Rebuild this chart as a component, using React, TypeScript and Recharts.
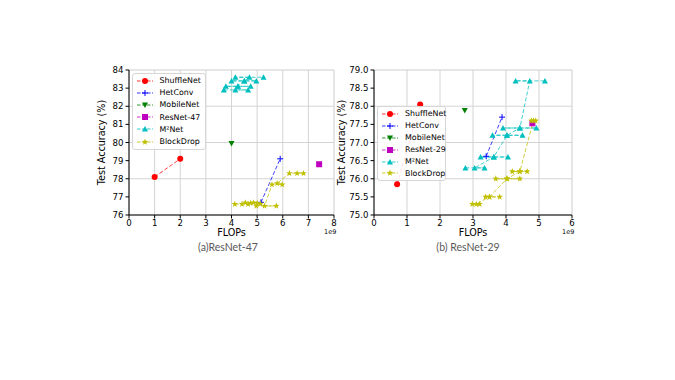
import React from "react"
import { LineChart, Line, XAxis, YAxis, CartesianGrid, Legend } from "recharts"

// ---- data: ResNet-47 panel ----
const shuffle47 = [{ x: 1.0, y: 78.1 }, { x: 2.0, y: 79.1 }]
const hetconv47 = [{ x: 5.15, y: 76.7 }, { x: 5.9, y: 79.1 }]
const mobile47 = [{ x: 4.0, y: 79.95 }]
const resnet47 = [{ x: 7.42, y: 78.8 }]
const m2net47 = [
  { x: 3.7, y: 82.9 }, { x: 4.65, y: 82.9 }, { x: 4.15, y: 82.9 },
  { x: 4.25, y: 83.1 }, { x: 3.78, y: 83.1 }, { x: 4.75, y: 83.1 }, { x: 4.25, y: 83.1 },
  { x: 4.5, y: 83.4 }, { x: 4.0, y: 83.4 }, { x: 4.97, y: 83.4 }, { x: 4.5, y: 83.4 },
  { x: 4.7, y: 83.6 }, { x: 4.15, y: 83.6 }, { x: 5.25, y: 83.6 },
]
const blockdrop47 = [
  { x: 4.13, y: 76.6 }, { x: 4.41, y: 76.6 }, { x: 4.54, y: 76.68 }, { x: 4.65, y: 76.6 },
  { x: 4.74, y: 76.66 }, { x: 4.86, y: 76.68 }, { x: 5.0, y: 76.66 }, { x: 5.13, y: 76.62 },
  { x: 4.97, y: 76.5 }, { x: 5.75, y: 76.5 }, { x: 5.29, y: 76.5 },
  { x: 5.58, y: 77.68 }, { x: 5.98, y: 77.68 }, { x: 5.78, y: 77.75 },
  { x: 6.26, y: 78.3 }, { x: 6.56, y: 78.3 }, { x: 6.81, y: 78.3 },
]

// ---- data: ResNet-29 panel ----
const shuffle29 = [{ x: 0.7, y: 75.85 }, { x: 1.4, y: 78.05 }]
const hetconv29 = [{ x: 3.4, y: 76.62 }, { x: 3.88, y: 77.7 }]
const mobile29 = [{ x: 2.75, y: 77.88 }]
const resnet29 = [{ x: 4.8, y: 77.53 }]
const m2net29 = [
  { x: 2.77, y: 76.3 }, { x: 3.35, y: 76.3 }, { x: 3.05, y: 76.3 },
  { x: 3.63, y: 76.6 }, { x: 3.23, y: 76.6 }, { x: 4.06, y: 76.6 }, { x: 3.63, y: 76.6 },
  { x: 4.03, y: 77.2 }, { x: 3.59, y: 77.2 }, { x: 4.5, y: 77.2 }, { x: 4.03, y: 77.2 },
  { x: 4.42, y: 77.4 }, { x: 3.91, y: 77.4 }, { x: 4.92, y: 77.4 }, { x: 4.42, y: 77.4 },
  { x: 4.72, y: 78.7 }, { x: 4.29, y: 78.7 }, { x: 5.18, y: 78.7 },
]
const blockdrop29 = [
  { x: 2.98, y: 75.3 }, { x: 3.2, y: 75.3 }, { x: 3.1, y: 75.3 },
  { x: 3.5, y: 75.5 }, { x: 3.38, y: 75.5 }, { x: 3.81, y: 75.5 }, { x: 3.5, y: 75.5 },
  { x: 4.03, y: 76.0 }, { x: 3.69, y: 76.0 }, { x: 4.42, y: 76.0 }, { x: 4.03, y: 76.0 },
  { x: 4.42, y: 76.2 }, { x: 4.19, y: 76.2 }, { x: 4.64, y: 76.2 }, { x: 4.42, y: 76.2 },
  { x: 4.83, y: 77.6 }, { x: 4.77, y: 77.6 }, { x: 4.9, y: 77.6 },
]

const xTicks47 = [0, 1, 2, 3, 4, 5, 6, 7, 8]
const yTicks47 = [76, 77, 78, 79, 80, 81, 82, 83, 84]
const xTicks29 = [0, 1, 2, 3, 4, 5, 6]
const yTicks29 = [75, 75.5, 76, 76.5, 77, 77.5, 78, 78.5, 79]

const FONT = "DejaVu Sans"

const minor = (lo: number, hi: number, step: number) =>
  Array.from({ length: Math.round((hi - lo) / step) + 1 }, (_, i) => +(lo + i * step).toFixed(2))

type Kind = "circle" | "plus" | "tridown" | "square" | "triup" | "star"

function Marker({ kind, cx, cy, color }: { kind: Kind; cx: number; cy: number; color: string }) {
  if (cx == null || cy == null) return null
  switch (kind) {
    case "circle":
      return <circle cx={cx} cy={cy} r={3} fill={color} />
    case "plus":
      return <path d={`M${cx - 3},${cy}H${cx + 3}M${cx},${cy - 3}V${cy + 3}`} stroke={color} strokeWidth={1} />
    case "tridown":
      return <polygon points={`${cx - 3},${cy - 2.5} ${cx + 3},${cy - 2.5} ${cx},${cy + 3}`} fill={color} />
    case "square":
      return <rect x={cx - 3} y={cy - 3} width={6} height={6} fill={color} />
    case "triup":
      return <polygon points={`${cx - 3},${cy + 2.5} ${cx + 3},${cy + 2.5} ${cx},${cy - 3}`} fill={color} />
    case "star": {
      const pts: string[] = []
      for (let i = 0; i < 10; i++) {
        const r = i % 2 === 0 ? 3.4 : 1.4
        const a = -Math.PI / 2 + (i * Math.PI) / 5
        pts.push(`${cx + r * Math.cos(a)},${cy + r * Math.sin(a)}`)
      }
      return <polygon points={pts.join(" ")} fill={color} />
    }
  }
  return null
}

type Series = { name: string; color: string; kind: Kind; data: { x: number; y: number }[] }

function LegendBox({ items, left, top, width, rowH, lineW }: any) {
  return (
    <div
      style={{
        position: "absolute",
        left,
        top,
        width,
        border: "1px solid #d6d6d6",
        borderRadius: 3,
        background: "rgba(255,255,255,0.85)",
        padding: "1px 0",
        fontFamily: FONT,
        fontSize: 7.9,
        color: "#000",
        textAlign: "left",
        boxSizing: "border-box",
      }}
    >
      {items.map((s: Series) => (
        <div key={s.name} style={{ display: "flex", alignItems: "center", justifyContent: "flex-start", height: rowH }}>
          <svg width={lineW + 6} height={10} style={{ marginLeft: 2, flex: "none" }}>
            <line x1={2} y1={5} x2={lineW + 2} y2={5} stroke={s.color} strokeOpacity={0.8} strokeDasharray="3.5 1.5" />
            <Marker kind={s.kind} cx={lineW / 2 + 2} cy={5} color={s.color} />
          </svg>
          <span style={{ marginLeft: 3, whiteSpace: "nowrap" }}>{s.name}</span>
        </div>
      ))}
    </div>
  )
}

function Panel({ series, xTicks, yTicks, minorX, minorY, yWidth, rightM, fmt, legend }: any) {
  const tick = { fontSize: 8.6, fill: "#000", fontFamily: FONT }
  const xMax = xTicks[xTicks.length - 1]
  const yMin = yTicks[0]
  const yMax = yTicks[yTicks.length - 1]
  return (
    <LineChart width={290} height={200} margin={{ top: 10, right: rightM, left: 0, bottom: 15 }}>
      <XAxis xAxisId="minor" type="number" dataKey="x" domain={[0, xMax]} ticks={minorX} hide />
      <YAxis yAxisId="minor" type="number" dataKey="y" domain={[yMin, yMax]} ticks={minorY} hide />
      <CartesianGrid xAxisId="minor" yAxisId="minor" stroke="#e8e8e8" strokeWidth={0.6} />
      <CartesianGrid stroke="#cfcfcf" strokeWidth={0.9} />
      <XAxis
        type="number"
        dataKey="x"
        domain={[0, xMax]}
        ticks={xTicks}
        allowDataOverflow
        height={30}
        tick={tick}
        tickSize={3.5}
        tickMargin={1}
        stroke="#000"
        label={{ value: "FLOPs", position: "insideBottom", offset: 9, style: { fontSize: 9.6, fill: "#000", fontFamily: FONT } }}
      />
      <YAxis
        type="number"
        dataKey="y"
        domain={[yMin, yMax]}
        ticks={yTicks}
        allowDataOverflow
        width={yWidth}
        tick={tick}
        tickSize={3.5}
        tickMargin={2}
        tickFormatter={fmt}
        stroke="#000"
        label={{
          value: "Test Accuracy (%)",
          angle: -90,
          position: "insideLeft",
          offset: 42,
          style: { textAnchor: "middle", fontSize: 9.6, fill: "#000", fontFamily: FONT },
        }}
      />
      {series.map((s: Series) => (
        <Line
          key={s.name}
          data={s.data}
          dataKey="y"
          name={s.name}
          type="linear"
          stroke={s.color}
          strokeOpacity={0.75}
          strokeWidth={1}
          strokeDasharray="4 2"
          isAnimationActive={false}
          activeDot={false}
          dot={(p: any) => <Marker key={`${s.name}-${p.index}`} kind={s.kind} cx={p.cx} cy={p.cy} color={s.color} />}
        />
      ))}
      <Legend
        content={() => <LegendBox {...legend} items={series} />}
        wrapperStyle={{ left: 0, top: 0, width: 0, height: 0, textAlign: "left" }}
      />
    </LineChart>
  )
}

const series47: Series[] = [
  { name: "ShuffleNet", color: "#ff0000", kind: "circle", data: shuffle47 },
  { name: "HetConv", color: "#0000ff", kind: "plus", data: hetconv47 },
  { name: "MobileNet", color: "#008000", kind: "tridown", data: mobile47 },
  { name: "ResNet-47", color: "#bf00bf", kind: "square", data: resnet47 },
  { name: "M²Net", color: "#00bfbf", kind: "triup", data: m2net47 },
  { name: "BlockDrop", color: "#bfbf00", kind: "star", data: blockdrop47 },
]
const series29: Series[] = [
  { name: "ShuffleNet", color: "#ff0000", kind: "circle", data: shuffle29 },
  { name: "HetConv", color: "#0000ff", kind: "plus", data: hetconv29 },
  { name: "MobileNet", color: "#008000", kind: "tridown", data: mobile29 },
  { name: "ResNet-29", color: "#bf00bf", kind: "square", data: resnet29 },
  { name: "M²Net", color: "#00bfbf", kind: "triup", data: m2net29 },
  { name: "BlockDrop", color: "#bfbf00", kind: "star", data: blockdrop29 },
]

const caption = { position: "absolute" as const, fontFamily: "Lato", fontSize: 10.5, color: "#595959", whiteSpace: "nowrap" as const, lineHeight: "12px" }
const sci = { position: "absolute" as const, fontFamily: FONT, fontSize: 6.5, color: "#000", lineHeight: "8px" }

export default function App() {
  return (
    <div style={{ position: "fixed", left: 0, top: 0, width: 675, height: 380, background: "#fff", overflow: "hidden" }}>
      <div style={{ position: "absolute", left: 60, top: 60 }}>
        <Panel
          series={series47}
          xTicks={xTicks47}
          yTicks={yTicks47}
          minorX={minor(0, 8, 0.2)}
          minorY={minor(76, 84, 0.2)}
          yWidth={69}
          rightM={16}
          fmt={(v: number) => `${v}`}
          legend={{ left: 71.5, top: 12.5, width: 74, rowH: 12.2, lineW: 16 }}
        />
      </div>
      <div style={{ position: "absolute", left: 300, top: 60 }}>
        <Panel
          series={series29}
          xTicks={xTicks29}
          yTicks={yTicks29}
          minorX={minor(0, 6, 0.2)}
          minorY={minor(75, 79, 0.1)}
          yWidth={74}
          rightM={18}
          fmt={(v: number) => v.toFixed(1)}
          legend={{ left: 77, top: 46, width: 69, rowH: 11.9, lineW: 16 }}
        />
      </div>
      <div style={{ ...sci, left: 324, top: 228 }}>1e9</div>
      <div style={{ ...sci, left: 562, top: 228 }}>1e9</div>
      <div style={{ ...caption, left: 228, top: 241, transform: "translateX(-50%)" }}>(a)ResNet-47</div>
      <div style={{ ...caption, left: 468, top: 241, transform: "translateX(-50%)" }}>(b) ResNet-29</div>
    </div>
  )
}
